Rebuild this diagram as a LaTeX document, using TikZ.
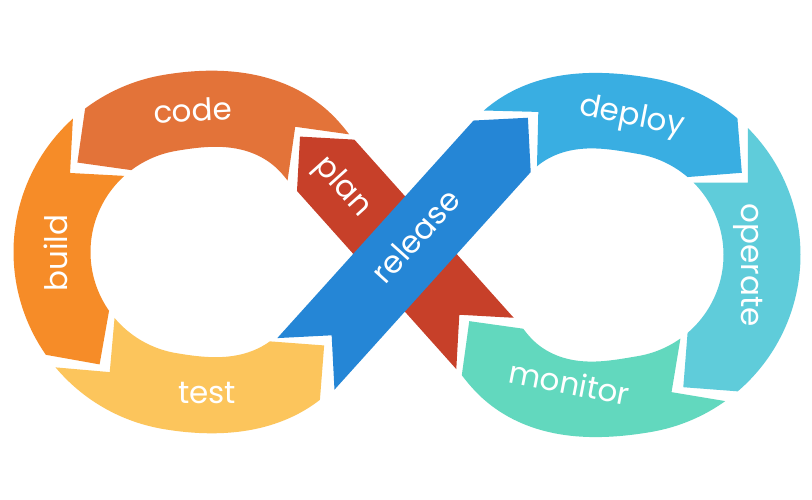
\documentclass[tikz,border=0pt]{standalone}
\usepackage{fontspec}
\setmainfont{Poppins}
\definecolor{ccode}{RGB}{227,115,57}
\definecolor{cbuild}{RGB}{246,140,40}
\definecolor{ctest}{RGB}{252,197,92}
\definecolor{cplan}{RGB}{199,64,41}
\definecolor{crelease}{RGB}{37,134,214}
\definecolor{cdeploy}{RGB}{57,174,226}
\definecolor{coperate}{RGB}{95,204,218}
\definecolor{cmonitor}{RGB}{98,216,190}
\newcommand\hwid{38.5}
% #1 centre, #2 radius function, #3 tail angle, #4 head angle, #5 flow sign, #6 colour
\newcommand\ringpiece[6]{%
  \begin{scope}[shift={#1}]
  \fill[#6] plot[domain=0:1,samples=60,variable=\t]
      ({(#3)+\t*((#4)-(#3))}:{#2((#3)+\t*((#4)-(#3)))+\hwid})
    -- ({(#4)+(#5)*atan(\hwid/#2(#4))}:{veclen(#2(#4),\hwid)})
    -- plot[domain=0:1,samples=60,variable=\t]
      ({(#4)+\t*((#3)-(#4))}:{#2((#4)+\t*((#3)-(#4)))-\hwid})
    -- ({(#3)+(#5)*atan(\hwid/#2(#3))}:{veclen(#2(#3),\hwid)})
    -- cycle;
  \end{scope}}
% #1 rotation, #2 tail position, #3 head position, #4 colour
\newcommand\bandpiece[4]{%
  \fill[#4, shift={(405,246)}, rotate=#1]
    (#2,\hwid) -- (#3,\hwid) -- ({(#3)+\hwid},0) -- (#3,-\hwid)
    -- (#2,-\hwid) -- ({(#2)+\hwid},0) -- cycle;}
\begin{document}
\begin{tikzpicture}[x=1pt,y=1pt,
  declare function={
    bmp(\q)=(\q<42)?1:((\q>100)?0:(0.5+0.5*cos((\q-42)/58*180)));
    rhoL(\a)=141+16*bmp(acos(cos(\a)));
    rhoR(\a)=141+20*bmp(180-acos(cos(\a)));
  },
  lbl/.style={text=white, font=\fontsize{31}{31}\selectfont, inner sep=0pt,
    text height=16.5pt, text depth=0pt, anchor=center}
]
\fill[white] (0,0) rectangle (812,500);
\useasboundingbox (0,0) rectangle (812,500);

% left loop (counter-clockwise flow)
\ringpiece{(193,248)}{rhoL}{37}{127}{1}{ccode}
\ringpiece{(193,248)}{rhoL}{132}{215}{1}{cbuild}
\ringpiece{(193,248)}{rhoL}{220}{310.7}{1}{ctest}
% right loop (clockwise flow)
\ringpiece{(621,245)}{rhoR}{133.5}{49.5}{-1}{cdeploy}
\ringpiece{(621,245)}{rhoR}{45}{-49.5}{-1}{coperate}
\ringpiece{(621,245)}{rhoR}{-54.5}{-143}{-1}{cmonitor}
% crossing bands
\bandpiece{131.8}{-120}{119}{cplan}
\bandpiece{47.95}{-148}{145}{crelease}

% labels
\node[lbl, rotate=3] (tcode) at (193,387) {code};
\node[lbl, rotate=90] (tbuild) at (59,247) {build};
\node[lbl] (ttest) at (207,104.5) {test};
\node[lbl, rotate=-48] (tplan) at (343,313) {plan};
\node[lbl, rotate=48] (trelease) at (418,262) {release};
\node[lbl, rotate=-11] (tdeploy) at (632,383) {deploy};
\node[lbl, rotate=-90] (toperate) at (750,235) {operate};
\node[lbl, rotate=-11] (tmonitor) at (569,114) {monitor};
\end{tikzpicture}
\end{document}
